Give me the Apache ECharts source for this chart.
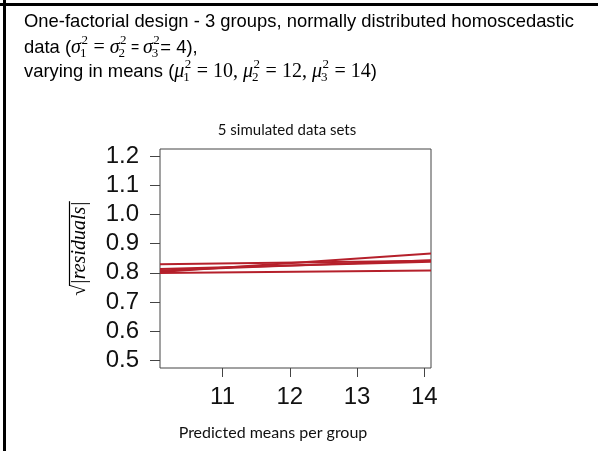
<!DOCTYPE html>
<html><head><meta charset="utf-8">
<script src="https://cdn.jsdelivr.net/npm/echarts@6/dist/echarts.min.js"></script>
<style>html,body{margin:0;padding:0;background:#fff}#c{width:598px;height:451px}</style>
</head><body><div id="c"></div>
<script>
// ---- data ----
const xRange = [10.07, 14.10];
const yRange = [0.474, 1.224];
const xTicks = [11, 12, 13, 14];
const yTicks = [0.5, 0.6, 0.7, 0.8, 0.9, 1.0, 1.1, 1.2];
const lineX = [10.07, 14.10];
const set1 = [0.829, 0.841];
const set2 = [0.803, 0.866];
const set3 = [0.808, 0.843];
const set4 = [0.813, 0.838];
const set5 = [0.799, 0.808];
const sets = [set1, set2, set3, set4, set5];
const subtitle = '5 simulated data sets';
const xTitle = 'Predicted means per group';

// ---- text layout helpers ----
const ctx = document.createElement('canvas').getContext('2d');
function tw(t, f) { ctx.font = f; return ctx.measureText(t).width; }
const SANS = '18.4px "Liberation Sans"';
const SANS_S = '14px "Liberation Sans"';
const MI = 'italic 20px "Liberation Serif"';
const MR = '20px "Liberation Serif"';
const SCR = '13px "Liberation Serif"';

function layoutLine(tokens, x0, yMid) {
  const out = [];
  let x = x0;
  tokens.forEach(tk => {
    if (tk.sup !== undefined) {
      const w = Math.max(tw(tk.sup, SCR), tw(tk.sub, SCR));
      out.push({type: 'text', style: {text: tk.sup, x: x + 0.5, y: yMid - 7, font: SCR, fill: '#000', verticalAlign: 'middle'}, silent: true});
      out.push({type: 'text', style: {text: tk.sub, x: x - 1, y: yMid + 6, font: SCR, fill: '#000', verticalAlign: 'middle'}, silent: true});
      x += w + 1;
    } else {
      out.push({type: 'text', style: {text: tk.t, x: x, y: yMid, font: tk.f, fill: '#000', verticalAlign: 'middle'}, silent: true});
      x += tw(tk.t, tk.f);
    }
  });
  return out;
}

const line1 = [{t: 'One-factorial design - 3 groups, normally distributed homoscedastic', f: SANS}];
const line2 = [
  {t: 'data (', f: SANS}, {t: 'σ', f: MI}, {sup: '2', sub: '1'}, {t: ' = ', f: MR},
  {t: 'σ', f: MI}, {sup: '2', sub: '2'}, {t: ' = ', f: SANS_S},
  {t: 'σ', f: MI}, {sup: '2', sub: '3'}, {t: '= 4),', f: SANS}
];
const line3 = [
  {t: 'varying in means (', f: SANS}, {t: 'μ', f: MI}, {sup: '2', sub: '1'}, {t: ' = 10, ', f: MR},
  {t: 'μ', f: MI}, {sup: '2', sub: '2'}, {t: ' = 12, ', f: MR},
  {t: 'μ', f: MI}, {sup: '2', sub: '3'}, {t: ' = 14', f: MR}, {t: ')', f: SANS}
];

const graphics = [];
graphics.push(...layoutLine(line1, 24, 22));
graphics.push(...layoutLine(line2, 24, 48));
graphics.push(...layoutLine(line3, 24, 72));

// outer frame (top + left)
graphics.push({type: 'line', shape: {x1: 0, y1: 4.5, x2: 598, y2: 4.5}, style: {stroke: '#000', lineWidth: 3}, silent: true});
graphics.push({type: 'line', shape: {x1: 4.5, y1: 0, x2: 4.5, y2: 451}, style: {stroke: '#000', lineWidth: 3}, silent: true});

// subtitle and x title
graphics.push({type: 'text', style: {text: subtitle, x: 287, y: 130, font: '15px Lato', fill: '#111', align: 'center', verticalAlign: 'middle'}, silent: true});
graphics.push({type: 'text', style: {text: xTitle, x: 273, y: 433, font: '16px Lato', fill: '#111', align: 'center', verticalAlign: 'middle'}, silent: true});

// y title: sqrt(|residuals|) rotated
const YF = 'italic 20px "Liberation Serif"';
const YR = '20px "Liberation Serif"';
const sq = '√', body = '|residuals|';
const wsq = tw(sq, YR), wb = tw(body, YF);
const total = wsq + wb;
graphics.push({
  type: 'group', x: 80, y: 248.5, rotation: Math.PI / 2, silent: true,
  children: [
    {type: 'text', style: {text: sq, x: -total / 2, y: 0, font: YR, fill: '#000', verticalAlign: 'middle'}},
    {type: 'text', style: {text: body, x: -total / 2 + wsq, y: 0, font: YF, fill: '#000', verticalAlign: 'middle'}},
    {type: 'line', shape: {x1: -total / 2 + wsq - 1, y1: -10.5, x2: total / 2, y2: -10.5}, style: {stroke: '#000', lineWidth: 1.2}}
  ]
});

const series = sets.map((s, i) => ({
  type: 'line', name: 'set' + (i + 1),
  data: [[lineX[0], s[0]], [lineX[1], s[1]]],
  symbol: 'none', silent: true,
  lineStyle: {color: '#b5202b', width: 2}
}));

const chart = echarts.init(document.getElementById('c'), null, {renderer: 'canvas'});
chart.setOption({
  animation: false,
  backgroundColor: '#fff',
  grid: {left: 160, right: 167, top: 149, bottom: 83, show: true, borderColor: '#444', borderWidth: 1, backgroundColor: 'transparent'},
  xAxis: {
    type: 'value', min: xRange[0], max: xRange[1],
    axisLine: {show: false}, splitLine: {show: false},
    axisTick: {show: true, length: 9, lineStyle: {color: '#444'}, customValues: xTicks},
    axisLabel: {customValues: xTicks, fontSize: 24, fontFamily: 'Liberation Sans', color: '#111', margin: 17}
  },
  yAxis: {
    type: 'value', min: yRange[0], max: yRange[1],
    axisLine: {show: false}, splitLine: {show: false},
    axisTick: {show: true, length: 10, lineStyle: {color: '#444'}, customValues: yTicks},
    axisLabel: {customValues: yTicks, fontSize: 24, fontFamily: 'Liberation Sans', color: '#111', margin: 21, formatter: v => v.toFixed(1)}
  },
  series: series,
  graphic: graphics
});
</script></body></html>
